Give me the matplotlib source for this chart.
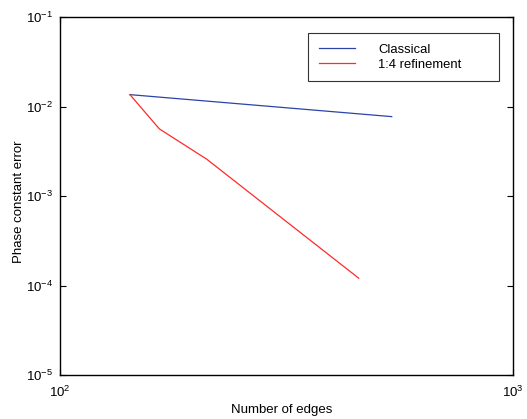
import matplotlib
matplotlib.use("Agg")
import matplotlib.pyplot as plt

plt.rcParams['font.family'] = ['Liberation Sans', 'DejaVu Sans']
plt.rcParams['mathtext.fontset'] = 'custom'
plt.rcParams['mathtext.rm'] = 'Liberation Sans'
plt.rcParams['mathtext.it'] = 'Liberation Sans'

classical_edges = [142.7, 539.8]
classical_error = [0.01365, 0.00775]
refined_edges = [142.7, 165.7, 210.8, 456.4]
refined_error = [0.01365, 0.00565, 0.00259, 1.21e-4]
series_labels = ['Classical', '1:4 refinement']

fig = plt.figure(figsize=(5.27, 4.19), dpi=100)
W, H = 527, 419
L, R, T, B = 60, 513, 17.3, 375
aw, ah = R - L, B - T
ax = fig.add_axes([L / W, 1 - B / H, aw / W, ah / H])

ax.loglog(classical_edges, classical_error, color='#2a44a8', lw=0.9, label=series_labels[0])
ax.loglog(refined_edges, refined_error, color='#ff2a2a', lw=0.9, label=series_labels[1])

ax.set_xlim(1e2, 1e3)
ax.set_ylim(1e-5, 1e-1)
ax.minorticks_off()
ax.tick_params(which='both', direction='in', top=True, right=True, length=4, width=0.8,
               labelsize=9.5)
ax.tick_params(axis='x', pad=7)
ax.tick_params(axis='y', pad=5)
for s in ax.spines.values():
    s.set_linewidth(1.0)

ax.set_xlabel('Number of edges', fontsize=9.5, va='center')
ax.set_ylabel('Phase constant error', fontsize=9.5, va='center')
ax.xaxis.set_label_coords(((232 + 332) / 2 - L) / aw, (B - 410) / ah)
ax.yaxis.set_label_coords((19 - L) / aw, (B - 202) / ah)

lx0, lx1, ly0 = 308.3, 499.3, 33.3
leg = ax.legend(loc='upper left',
                bbox_to_anchor=((lx0 - L) / aw, (B - ly0) / ah, (lx1 - lx0) / aw, 0.0),
                mode='expand', fontsize=9.4, frameon=True, fancybox=False,
                edgecolor='black', handlelength=2.77, handletextpad=1.77,
                borderpad=0.8, labelspacing=0.2, borderaxespad=0)
leg.get_frame().set_linewidth(0.8)

fig.savefig('out.png', dpi=100)
